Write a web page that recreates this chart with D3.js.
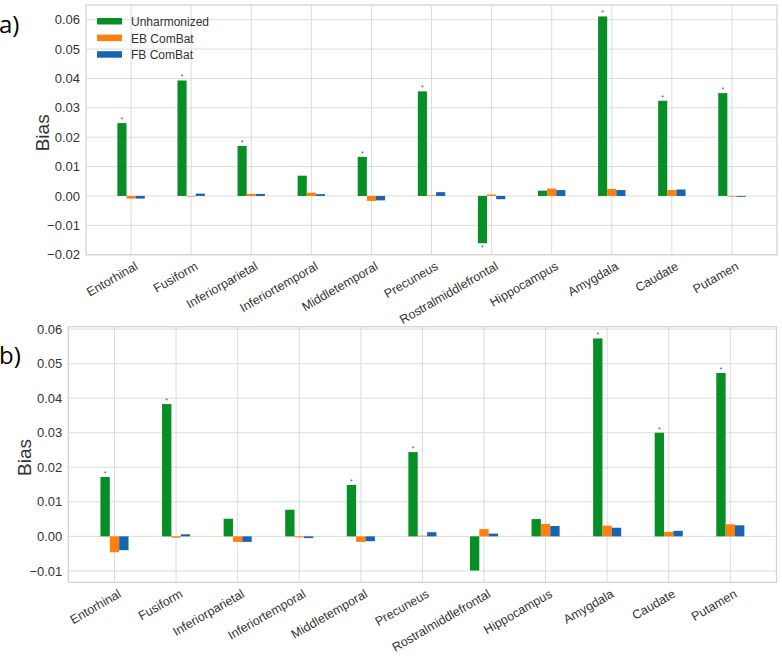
<!DOCTYPE html>
<html>
<head>
<meta charset="utf-8">
<script src="https://cdn.jsdelivr.net/npm/d3@7"></script>
<style>
  html, body { margin: 0; padding: 0; background: #fff; }
  svg { display: block; font-family: "Liberation Sans", Arial, sans-serif; }
</style>
</head>
<body>
<svg id="chart" width="782" height="656"></svg>
<script>
// ---------- data ----------
const regions = ["Entorhinal", "Fusiform", "Inferiorparietal", "Inferiortemporal", "Middletemporal",
  "Precuneus", "Rostralmiddlefrontal", "Hippocampus", "Amygdala", "Caudate", "Putamen"];
const seriesNames = ["Unharmonized", "EB ComBat", "FB ComBat"];
const seriesColors = ["#078f26", "#ff800e", "#1764b0"];

// panel a)
const aUnharmonized = [0.0248, 0.0393, 0.0170, 0.0069, 0.0133, 0.0356, -0.0161, 0.0018, 0.0611, 0.0324, 0.0350];
const aEB = [-0.0009, -0.0002, 0.0007, 0.0011, -0.0017, 0.0002, 0.0005, 0.0025, 0.0024, 0.0020, -0.0002];
const aFB = [-0.0009, 0.0008, 0.0007, 0.0006, -0.0015, 0.0013, -0.0011, 0.0020, 0.0020, 0.0022, -0.0003];
const aSignificant = [1, 1, 1, 0, 1, 1, 1, 0, 1, 1, 1];
const aTicks = [-0.02, -0.01, 0.00, 0.01, 0.02, 0.03, 0.04, 0.05, 0.06];

// panel b)
const bUnharmonized = [0.0172, 0.0383, 0.0051, 0.0077, 0.0149, 0.0244, -0.0099, 0.0050, 0.0573, 0.0300, 0.0473];
const bEB = [-0.0046, -0.0004, -0.0016, -0.0003, -0.0016, 0.0002, 0.0021, 0.0036, 0.0031, 0.0013, 0.0035];
const bFB = [-0.0040, 0.0006, -0.0016, -0.0005, -0.0014, 0.0012, 0.0008, 0.0030, 0.0025, 0.0016, 0.0032];
const bSignificant = [1, 1, 0, 0, 1, 1, 0, 0, 1, 1, 1];
const bTicks = [-0.01, 0.00, 0.01, 0.02, 0.03, 0.04, 0.05, 0.06];

// ---------- drawing ----------
const svg = d3.select("#chart");
const gridColor = "#dcdcdc";
const textColor = "#333333";
const fmt = v => d3.format(".2f")(v).replace("-", "\u2212");

function drawPanel(opt) {
  const g = svg.append("g");
  const x = d3.scalePoint().domain(regions).range([opt.left, opt.right]).padding(0.75);
  const y = d3.scaleLinear().domain(opt.yDomain).range([opt.bottom, opt.top]);
  const step = x.step();
  const bw = step * 0.152;

  // grid
  g.append("g").selectAll("line").data(opt.ticks).join("line")
    .attr("x1", opt.left).attr("x2", opt.right)
    .attr("y1", d => y(d)).attr("y2", d => y(d))
    .attr("stroke", gridColor).attr("stroke-width", 1);
  g.append("g").selectAll("line").data(regions).join("line")
    .attr("x1", d => x(d)).attr("x2", d => x(d))
    .attr("y1", opt.top).attr("y2", opt.bottom)
    .attr("stroke", gridColor).attr("stroke-width", 1);

  // frame
  g.append("rect").attr("x", opt.left).attr("y", opt.top)
    .attr("width", opt.right - opt.left).attr("height", opt.bottom - opt.top)
    .attr("fill", "none").attr("stroke", "#d4d4d4").attr("stroke-width", 1.3);

  // y axis labels
  const yAxis = d3.axisLeft(y).tickValues(opt.ticks).tickFormat(fmt).tickSize(0).tickPadding(6);
  const ya = g.append("g").attr("transform", `translate(${opt.left},0)`).call(yAxis);
  ya.select(".domain").remove();
  ya.selectAll("text").attr("font-size", 13).attr("fill", textColor)
    .attr("font-family", "'Liberation Sans', Arial, sans-serif");

  // x axis labels
  const xAxis = d3.axisBottom(x).tickSize(0).tickPadding(0);
  const xa = g.append("g").attr("transform", `translate(0,${opt.bottom})`).call(xAxis);
  xa.select(".domain").remove();
  xa.selectAll("text")
    .attr("font-size", 12.5).attr("fill", textColor)
    .attr("font-family", "'Liberation Sans', Arial, sans-serif")
    .attr("text-anchor", "end")
    .attr("dy", null).attr("y", null)
    .attr("transform", "translate(7,14) rotate(-30)");

  // bars
  const series = [opt.s0, opt.s1, opt.s2];
  series.forEach((vals, si) => {
    g.append("g").selectAll("rect").data(vals).join("rect")
      .attr("x", (d, i) => x(regions[i]) + (si - 1.5) * bw)
      .attr("width", bw)
      .attr("y", d => y(Math.max(0, d)))
      .attr("height", d => Math.abs(y(d) - y(0)))
      .attr("fill", seriesColors[si]);
  });

  // significance markers
  const marks = opt.s0.map((d, i) => ({ v: d, r: regions[i], s: opt.sig[i] })).filter(d => d.s);
  g.append("g").selectAll("text").data(marks).join("text")
    .attr("x", d => x(d.r) - bw)
    .attr("y", d => d.v >= 0 ? y(d.v) - 1 : y(d.v) + 7)
    .attr("text-anchor", "middle").attr("font-size", 7).attr("fill", "#555")
    .text("*");

  // y label
  g.append("text")
    .attr("transform", `translate(${opt.ylabX},${(opt.top + opt.bottom) / 2 + 3}) rotate(-90)`)
    .attr("text-anchor", "middle").attr("font-size", 19).attr("fill", textColor)
    .text("Bias");

  // panel letter
  svg.append("text").attr("x", -1).attr("y", opt.letterY)
    .attr("font-size", 24).attr("fill", "#000")
    .attr("font-family", "'Open Sans', 'Liberation Sans', sans-serif")
    .text(opt.letter);

  return { x, y };
}

drawPanel({
  left: 86, right: 777, top: 5, bottom: 254.7,
  yDomain: [-0.02, 0.065], ticks: aTicks,
  s0: aUnharmonized, s1: aEB, s2: aFB, sig: aSignificant,
  ylabX: 49, letter: "a)", letterY: 33
});

drawPanel({
  left: 68.3, right: 776.5, top: 326.7, bottom: 582.3,
  yDomain: [-0.0133, 0.0607], ticks: bTicks,
  s0: bUnharmonized, s1: bEB, s2: bFB, sig: bSignificant,
  ylabX: 31, letter: "b)", letterY: 364
});

// legend (panel a)
const legend = svg.append("g");
seriesNames.forEach((name, i) => {
  legend.append("rect").attr("x", 97).attr("y", 18 + i * 16.6)
    .attr("width", 25).attr("height", 6.5).attr("fill", seriesColors[i]);
  legend.append("text").attr("x", 131).attr("y", 26 + i * 16.6)
    .attr("font-size", 12).attr("fill", textColor).text(name);
});
</script>
</body>
</html>
